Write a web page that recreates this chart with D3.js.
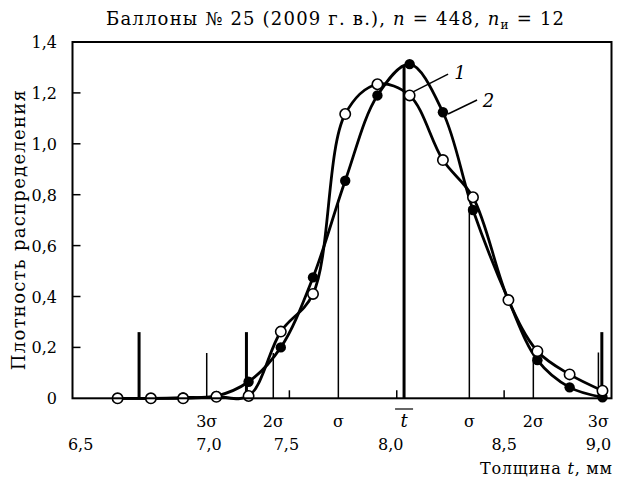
<!DOCTYPE html>
<html>
<head>
<meta charset="utf-8">
<script src="https://cdn.jsdelivr.net/npm/d3@7.9.0/dist/d3.min.js"></script>
<style>
  body { margin: 0; background: #fff; }
</style>
</head>
<body>
<svg id="chart" width="622" height="477" font-family="'DejaVu Serif', serif"></svg>
<script>
// bin centres of the thickness histogram, mm
const binCenters = [6.70, 6.855, 7.005, 7.16, 7.31, 7.46, 7.61, 7.76, 7.91, 8.06, 8.215, 8.355, 8.52, 8.655, 8.805, 8.958];
// curve 1 (open circles) and curve 2 (filled circles)
const curve1 = [0, 0, 0, 0.006, 0.009, 0.262, 0.41, 1.117, 1.234, 1.19, 0.936, 0.79, 0.386, 0.185, 0.094, 0.03];
const curve2 = [0, 0, 0.003, 0.009, 0.065, 0.20, 0.475, 0.855, 1.19, 1.313, 1.124, 0.74, 0.386, 0.15, 0.043, 0.004];

// sigma marks: position and height of thin line
const sigmaNames = ['3σ', '2σ', 'σ', 'mean', 'σ', '2σ', '3σ'];
const sigmaPos = [7.115, 7.425, 7.728, 8.034, 8.338, 8.636, 8.939];
const sigmaHeight = [0.178, 0.178, 0.78, 1.31, 0.753, 0.163, 0.18];
// thick bars (tolerance limits)
const barPos = [6.80, 7.30, 8.955];
const barHeight = [0.26, 0.26, 0.26];

const xTickValues = [6.5, 7.0, 7.5, 8.0, 8.5, 9.0];
const xTickLabels = ['6,5', '7,0', '7,5', '8,0', '8,5', '9,0'];
const yTickValues = [0, 0.2, 0.4, 0.6, 0.8, 1.0, 1.2, 1.4];
const yTickLabels = ['0', '0,2', '0,4', '0,6', '0,8', '1,0', '1,2', '1,4'];

const svg = d3.select('#chart');
const plotLeft = 72.5, plotRight = 611.5, plotTop = 42, plotBottom = 398.3;

const x = d3.scaleLinear().domain([6.49, 9.0]).range([plotLeft, plotRight]);
const y = d3.scaleLinear().domain([0, 1.4]).range([plotBottom, plotTop]);

// title
const title = svg.append('text')
  .attr('x', 335).attr('y', 25)
  .attr('text-anchor', 'middle')
  .attr('textLength', 458)
  .attr('lengthAdjust', 'spacing')
  .style('font-size', '18px');
title.append('tspan').text('Баллоны № 25 (2009 г. в.), ');
title.append('tspan').style('font-style', 'italic').text('n');
title.append('tspan').text(' = 448, ');
title.append('tspan').style('font-style', 'italic').text('n');
title.append('tspan').attr('dy', 4).style('font-size', '12px').text('и');
title.append('tspan').attr('dy', -4).text(' = 12');

// y axis label
svg.append('text')
  .attr('transform', `translate(25,${(plotTop + plotBottom) / 2 + 10}) rotate(-90)`)
  .attr('text-anchor', 'middle')
  .attr('textLength', 280)
  .attr('lengthAdjust', 'spacing')
  .style('font-size', '18px')
  .text('Плотность распределения');

// y tick labels + inner ticks
svg.selectAll('.ylab')
  .data(yTickValues)
  .join('text')
  .attr('class', 'ylab')
  .attr('x', 57)
  .attr('y', d => y(d) + 6)
  .attr('text-anchor', 'end')
  .style('font-size', '16px')
  .text((d, i) => yTickLabels[i]);

svg.selectAll('.ytick')
  .data(yTickValues.slice(1, -1))
  .join('line')
  .attr('x1', plotLeft).attr('x2', plotLeft + 8)
  .attr('y1', d => y(d)).attr('y2', d => y(d))
  .attr('stroke', '#000').attr('stroke-width', 1.5);

// x inner ticks
svg.selectAll('.xtick')
  .data([7.5, 8.0, 8.5])
  .join('line')
  .attr('x1', d => x(d)).attr('x2', d => x(d))
  .attr('y1', plotBottom).attr('y2', plotBottom - 8)
  .attr('stroke', '#000').attr('stroke-width', 1.5);

// x tick labels (placed as in the original figure)
const labelNudge = [6, 27, -3, -6, 0, -13];
svg.selectAll('.xlab')
  .data(xTickValues)
  .join('text')
  .attr('class', 'xlab')
  .attr('x', (d, i) => x(d) + labelNudge[i])
  .attr('y', 450)
  .attr('text-anchor', 'middle')
  .style('font-size', '16px')
  .text((d, i) => xTickLabels[i]);

// sigma labels
sigmaNames.forEach((s, i) => {
  const cx = x(sigmaPos[i]);
  if (s === 'mean') {
    svg.append('text')
      .attr('x', cx).attr('y', 427)
      .attr('text-anchor', 'middle')
      .style('font-size', '18px').style('font-style', 'italic')
      .text('t');
    svg.append('line')
      .attr('x1', cx - 9).attr('x2', cx + 9)
      .attr('y1', 409).attr('y2', 409)
      .attr('stroke', '#000').attr('stroke-width', 1.2);
  } else {
    svg.append('text')
      .attr('x', cx).attr('y', 427)
      .attr('text-anchor', 'middle')
      .style('font-size', '16px')
      .text(s);
  }
});

// axis title
const xt = svg.append('text')
  .attr('x', 612).attr('y', 474)
  .attr('text-anchor', 'end')
  .attr('textLength', 132)
  .attr('lengthAdjust', 'spacing')
  .style('font-size', '16px');
xt.append('tspan').text('Толщина ');
xt.append('tspan').style('font-style', 'italic').text('t');
xt.append('tspan').text(', мм');

// vertical lines
svg.selectAll('.sig')
  .data(sigmaPos)
  .join('line')
  .attr('x1', d => x(d)).attr('x2', d => x(d))
  .attr('y1', plotBottom).attr('y2', (d, i) => y(sigmaHeight[i]))
  .attr('stroke', '#000')
  .attr('stroke-width', (d, i) => sigmaNames[i] === 'mean' ? 3 : 1.5);

svg.selectAll('.bar')
  .data(barPos)
  .join('line')
  .attr('x1', d => x(d)).attr('x2', d => x(d))
  .attr('y1', plotBottom).attr('y2', (d, i) => y(barHeight[i]))
  .attr('stroke', '#000').attr('stroke-width', 3);

// curves
const line = d3.line()
  .x((d, i) => x(binCenters[i]))
  .y(d => y(d))
  .curve(d3.curveCatmullRom.alpha(0.5));

[curve1, curve2].forEach(c => {
  svg.append('path')
    .datum(c)
    .attr('d', line)
    .attr('fill', 'none')
    .attr('stroke', '#000')
    .attr('stroke-width', 2.8);
});

svg.selectAll('.p2')
  .data(curve2)
  .join('circle')
  .attr('cx', (d, i) => x(binCenters[i]))
  .attr('cy', d => y(d))
  .attr('r', 5.2)
  .attr('fill', '#000');

svg.selectAll('.p1')
  .data(curve1)
  .join('circle')
  .attr('cx', (d, i) => x(binCenters[i]))
  .attr('cy', d => y(d))
  .attr('r', 5.2)
  .attr('fill', '#fff')
  .attr('stroke', '#000')
  .attr('stroke-width', 1.6);

// leaders and curve numbers
const leaders = [
  { name: '1', from: [8.076, 1.204], to: [8.239, 1.274], at: [8.268, 1.255] },
  { name: '2', from: [8.239, 1.117], to: [8.374, 1.172], at: [8.40, 1.145] }
];
leaders.forEach(l => {
  svg.append('line')
    .attr('x1', x(l.from[0])).attr('y1', y(l.from[1]))
    .attr('x2', x(l.to[0])).attr('y2', y(l.to[1]))
    .attr('stroke', '#000').attr('stroke-width', 1.5);
  svg.append('text')
    .attr('x', x(l.at[0])).attr('y', y(l.at[1]))
    .style('font-size', '18px').style('font-style', 'italic')
    .text(l.name);
});

// frame
svg.append('rect')
  .attr('x', plotLeft).attr('y', plotTop)
  .attr('width', plotRight - plotLeft).attr('height', plotBottom - plotTop)
  .attr('fill', 'none')
  .attr('stroke', '#000')
  .attr('stroke-width', 2);
</script>
</body>
</html>
